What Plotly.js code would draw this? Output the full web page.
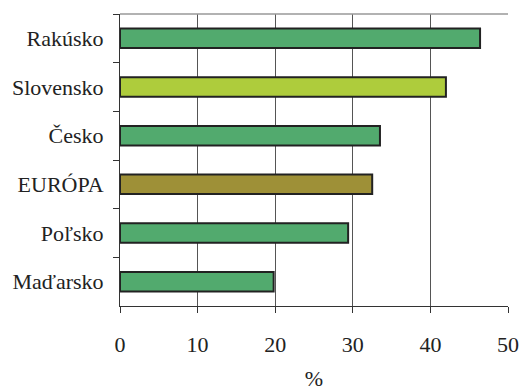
<!DOCTYPE html>
<html>
<head>
<meta charset="utf-8">
<script src="https://cdn.plot.ly/plotly-3.0.1.min.js"></script>
<style>html,body{margin:0;padding:0;background:#fff;}#chart{width:520px;height:391px;}</style>
</head>
<body>
<div id="chart"></div>
<script>
const categories = ["Rakúsko", "Slovensko", "Česko", "EURÓPA", "Poľsko", "Maďarsko"];
const values = [46.4, 42.0, 33.5, 32.5, 29.4, 19.8];
const barColors = ["#52AA6E", "#AECC3C", "#52AA6E", "#9E9037", "#52AA6E", "#52AA6E"];
const xTicks = [0, 10, 20, 30, 40, 50];

const trace = {
  type: "bar",
  orientation: "h",
  y: categories,
  x: values,
  marker: { color: barColors, line: { color: "#222222", width: 2 } },
  width: 0.4,
  hoverinfo: "none"
};

const serif = "'Liberation Serif', 'Times New Roman', serif";

const layout = {
  width: 520, height: 391,
  margin: { l: 120, r: 12, t: 14, b: 85 },
  paper_bgcolor: "#ffffff",
  plot_bgcolor: "#ffffff",
  showlegend: false,
  font: { family: serif, color: "#222222" },
  xaxis: {
    range: [0, 50],
    tickvals: xTicks,
    ticktext: xTicks.map(String),
    showgrid: true, gridcolor: "#555555", gridwidth: 1,
    zeroline: false,
    showline: true, linecolor: "#333333", linewidth: 1,
    ticks: "outside", ticklen: 6, tickcolor: "#333333",
    tickfont: { family: serif, size: 22, color: "#222222" },
    ticklabelstandoff: 13,
    title: { text: "%", font: { family: serif, size: 22, color: "#222222" }, standoff: 27 },
    fixedrange: true
  },
  yaxis: {
    type: "category",
    autorange: "reversed",
    showgrid: false,
    zeroline: false,
    showline: true, linecolor: "#333333", linewidth: 1,
    ticks: "outside", ticklen: 6, tickcolor: "#333333",
    tickson: "boundaries",
    tickfont: { family: serif, size: 22, color: "#222222" },
    ticklabelstandoff: 11,
    fixedrange: true
  },
  shapes: [
    { type: "line", xref: "paper", yref: "paper", x0: 0, x1: 1, y0: 1, y1: 1,
      line: { color: "#999999", width: 1.5 } }
  ]
};

Plotly.newPlot("chart", [trace], layout, { displayModeBar: false, staticPlot: true });
</script>
</body>
</html>
